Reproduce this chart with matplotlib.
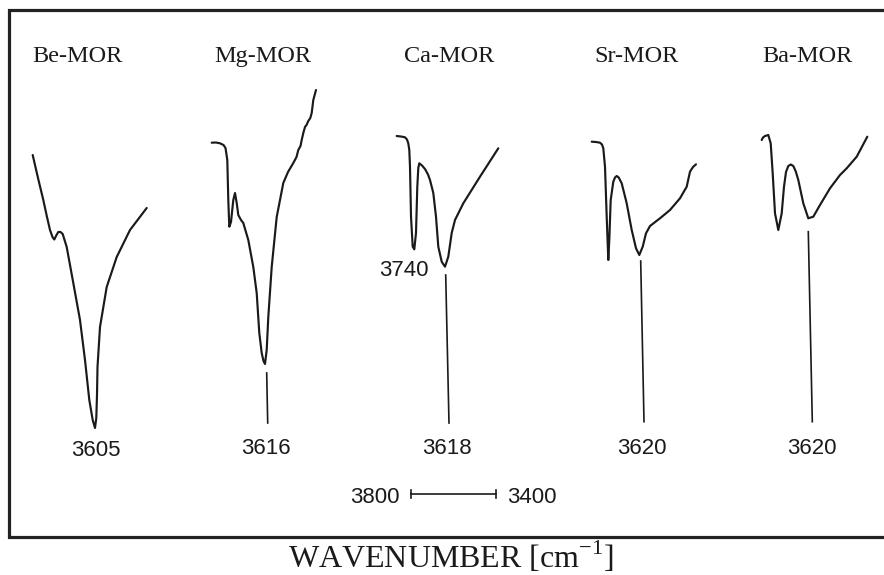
import matplotlib
matplotlib.use("Agg")
import matplotlib.pyplot as plt

# traced IR spectra (plot units, y grows downward = stronger absorption)
BE_X = [32.7, 38, 43.3, 47, 50, 52.5, 54.3, 56.5, 58.3, 60.5, 62.7, 66.7, 73.3, 80, 85, 89.3, 92.7, 95,
        96.3, 97.0, 97.5, 100, 106.7, 116.7, 130, 146.7]
BE_Y = [155, 178, 200, 217, 230, 237, 239.5, 235, 232, 232, 234, 247, 283, 320, 360, 400, 420, 428,
        418, 395, 367, 327, 287, 257, 230, 208]

MG_X = [211.7, 216, 220, 223.5, 225.5, 227.3, 228.3, 229.3, 231, 233.3, 235, 236.7, 238.3, 241, 243.3,
        248.3, 253.3, 256.7, 259.3, 261.7, 263.5, 265, 266.7, 268.3, 271.7, 276.7, 283.3, 288, 293.3,
        296.5, 298.3, 300.5, 301.7, 303.3, 305, 306.5, 308.3, 310.3, 311.7, 313.3, 316]
MG_Y = [142.7, 142.5, 143.3, 145, 148, 160, 200, 226.7, 222, 200, 193, 203, 215, 220, 223,
        240, 267, 293, 333, 353, 361, 364, 350, 317, 267, 217, 183, 172, 163,
        157, 150, 146, 140, 133, 127, 125, 121, 118, 113, 100, 90]

CA_X = [396.7, 401, 405, 407, 408.3, 409.3, 410, 411, 412.7, 414.3, 416, 417.3, 418.3, 419.3, 422, 425,
        428, 430, 433.3, 436, 438.3, 441.7, 445, 448.3, 451.7, 455, 463.3, 480, 498.3]
CA_Y = [136, 136.5, 137.3, 139.5, 143.3, 150, 166.7, 216.7, 246.7, 249.3, 233, 186.7, 168, 163.3, 165.5,
        169, 174.5, 180, 193, 216.7, 246.7, 261.7, 266.7, 256.7, 233, 220, 203.3, 176.7, 148.3]

SR_X = [591.7, 596, 600, 602, 603.3, 605, 606.7, 608.3, 609.3, 610.7, 613.3, 615, 616.7, 618.7, 621.7,
        626.7, 631.7, 636, 639.3, 642.7, 646, 650, 660, 670, 680, 686.7, 690, 693, 696]
SR_Y = [141.7, 142, 142.7, 144.5, 148.3, 166.7, 216.7, 260, 240, 200, 181.7, 177.5, 176, 177.5, 183.3,
        203.3, 230, 248.3, 255, 246.7, 233.3, 226, 218.3, 210, 198.3, 186.7, 171.7, 167, 164.3]

BA_X = [761.7, 763, 765, 768.3, 770.7, 772.7, 775, 778.3, 781.7, 784, 786, 788.3, 790.8, 793.3, 795.8,
        798.3, 803.3, 808.3, 813.3, 820, 830, 840, 846.7, 856.7, 867.3]
BA_Y = [140, 137.5, 136, 135, 143.3, 173.3, 213.3, 230, 213.3, 186.7, 172, 166, 164.5, 166, 171.5,
        180, 203.3, 218.3, 216.7, 205, 188.3, 175, 168.3, 156.7, 136.7]

SAMPLES = ["Be-MOR", "Mg-MOR", "Ca-MOR", "Sr-MOR", "Ba-MOR"]
SAMPLE_X = [77, 263, 449, 636, 807]

# peak labels (cm-1) and the marker line under each band
PEAKS = ["3605", "3616", "3618", "3620", "3620"]
PEAK_X = [96, 266, 447, 642, 812]
PEAK_Y = [456.5, 454.5, 454.5, 454.5, 454.5]
MARK_X0 = [None, 266.7, 445.7, 640.7, 808.3]
MARK_X1 = [None, 267.7, 449.0, 644.0, 812.3]
MARK_Y0 = [None, 373, 275, 261, 231.7]
MARK_Y1 = [None, 423, 423, 421.7, 421.7]

SHOULDER = "3740"
SHOULDER_XY = (403.7, 276.5)

SCALE_FROM, SCALE_TO = "3800", "3400"
SCALE_X = (410.7, 495.7)
SCALE_Y = 494.3

W, H = 884, 575
fig = plt.figure(figsize=(W / 100, H / 100), dpi=100)
ax = fig.add_axes([0, 0, 1, 1])
ax.set_xlim(0, W)
ax.set_ylim(H, 0)
ax.axis("off")

serif = ["Liberation Serif", "DejaVu Serif"]
sans = ["Liberation Sans", "DejaVu Sans"]
ink = "#1a1a1a"

# frame: left, top, bottom (right edge runs off the picture)
ax.plot([W + 5, 8.7, 8.7, W + 5], [10, 10, 537.3, 537.3], color="#222222", lw=2.3,
        solid_joinstyle="miter", clip_on=False)

for xs, ys in [(BE_X, BE_Y), (MG_X, MG_Y), (CA_X, CA_Y), (SR_X, SR_Y), (BA_X, BA_Y)]:
    ax.plot(xs, ys, color=ink, lw=1.55, solid_joinstyle="round", solid_capstyle="round")

for name, x in zip(SAMPLES, SAMPLE_X):
    ax.text(x, 61.7, name, family=serif, fontsize=17.5, ha="center", va="baseline", color=ink)

for lab, x, y, x0, x1, y0, y1 in zip(PEAKS, PEAK_X, PEAK_Y, MARK_X0, MARK_X1, MARK_Y0, MARK_Y1):
    ax.text(x, y, lab, family=sans, fontsize=16, ha="center", va="baseline", color=ink)
    if x0 is not None:
        ax.plot([x0, x1], [y0, y1], color=ink, lw=1.2)

ax.text(SHOULDER_XY[0], SHOULDER_XY[1], SHOULDER, family=sans, fontsize=16,
        ha="center", va="baseline", color=ink)

# wavenumber scale bar
ax.plot(SCALE_X, [SCALE_Y, SCALE_Y], color=ink, lw=1.2)
for sx in SCALE_X:
    ax.plot([sx, sx], [SCALE_Y - 4, SCALE_Y + 4], color=ink, lw=1.2)
ax.text(SCALE_X[0] - 11, SCALE_Y + 8.5, SCALE_FROM, family=sans, fontsize=16, ha="right",
        va="baseline", color=ink)
ax.text(SCALE_X[1] + 11, SCALE_Y + 8.5, SCALE_TO, family=sans, fontsize=16, ha="left",
        va="baseline", color=ink)

ax.text(451, 568, r"WAVENUMBER [cm$^{\mathregular{-1}}$]", family=serif, fontsize=23,
        ha="center", va="baseline", color=ink)

fig.savefig("out.png", dpi=100)
